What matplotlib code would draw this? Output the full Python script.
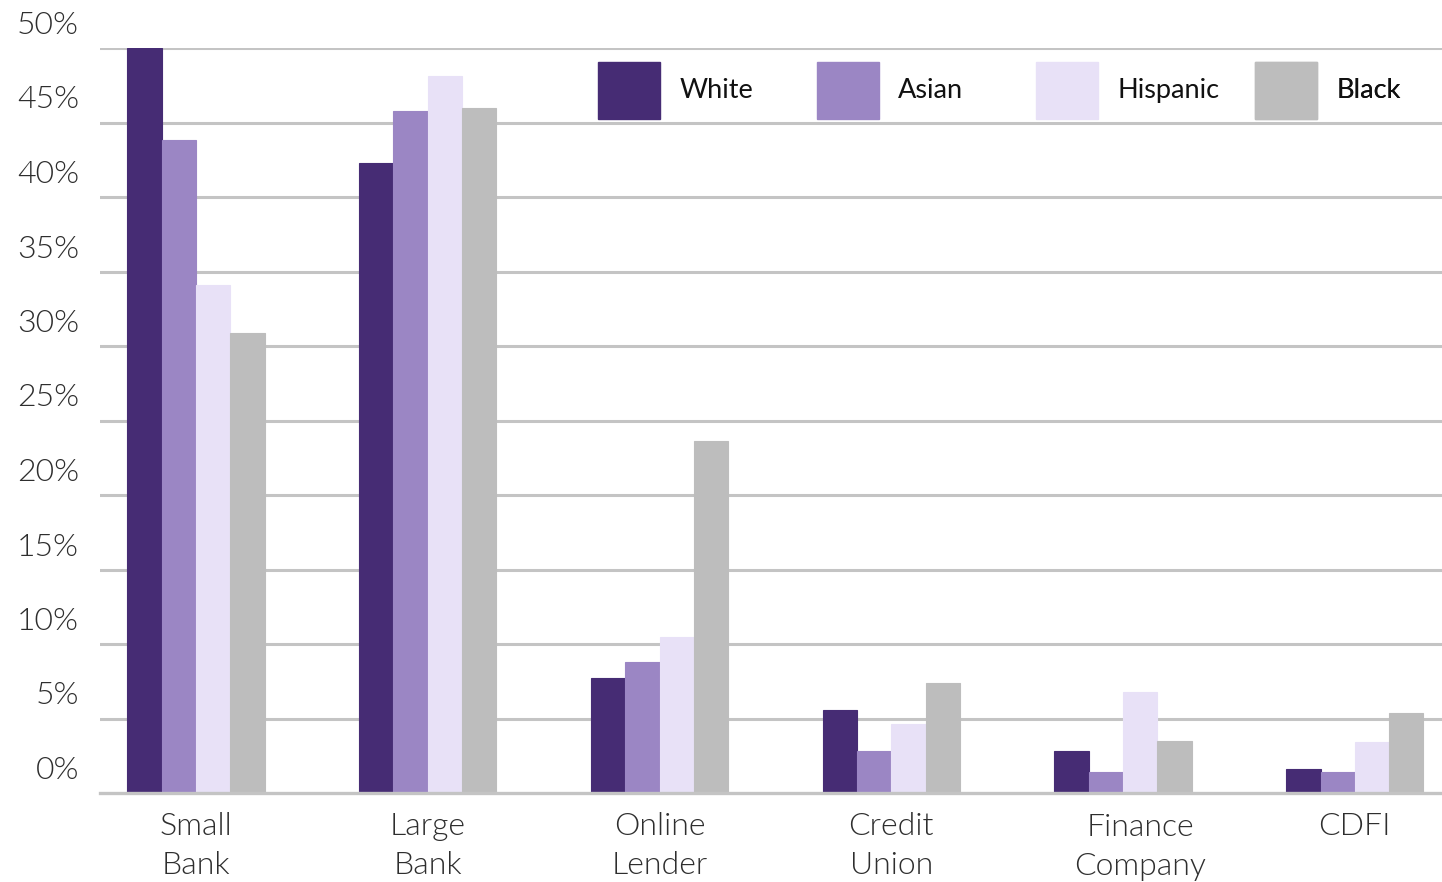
import matplotlib
matplotlib.use("Agg")
import matplotlib.pyplot as plt
import matplotlib.transforms as mtransforms
from matplotlib.patches import Patch
import numpy as np

plt.rcParams['font.family'] = ['Lato', 'DejaVu Sans']

categories = ["Small\nBank", "Large\nBank", "Online\nLender", "Credit\nUnion", "Finance\nCompany", "CDFI"]
series_names = ["White", "Asian", "Hispanic", "Black"]
white = [50.0, 42.3, 7.7, 5.6, 2.8, 1.6]
asian = [43.8, 45.8, 8.8, 2.8, 1.4, 1.4]
hispanic = [34.1, 48.1, 10.5, 4.6, 6.8, 3.4]
black = [30.9, 46.0, 23.6, 7.4, 3.5, 5.4]
yticks = [0, 5, 10, 15, 20, 25, 30, 35, 40, 45, 50]
ytick_labels = [f"{v}%" for v in yticks]

colors = ["#462C74", "#9B86C4", "#E8E1F7", "#BDBDBD"]
text_color = "#2E2E2E"

fig = plt.figure(figsize=(14.42, 8.82), dpi=100)
ax = fig.add_axes([100/1442, 89/882, 1342/1442, 745/882])

x = np.arange(len(categories))
w = 0.148
data = [white, asian, hispanic, black]
for i, (vals, name, c) in enumerate(zip(data, series_names, colors)):
    ax.bar(x + (i - 1.5) * w, vals, width=w, color=c, label=name,
           edgecolor=c, linewidth=0.8, zorder=3)

ax.set_ylim(0, 50)
ax.set_xlim(-0.414, 5.376)
ax.set_yticks(yticks[1:])
ax.yaxis.grid(True, color="#C4C4C4", linewidth=2.2, zorder=0)
ax.set_axisbelow(True)
ax.tick_params(axis='y', length=0, labelleft=False)
ax.tick_params(axis='x', length=0, pad=14)
ax.set_xticks(x)
ax.set_xticklabels(categories, fontsize=23, fontweight=300, color=text_color, linespacing=1.4)
# the "Finance Company" label sits slightly right of its group
fc = ax.get_xticklabels()[4]
fc.set_transform(fc.get_transform() + mtransforms.ScaledTranslation(17/100, -1/100, fig.dpi_scale_trans))

for s in ["top", "right", "left"]:
    ax.spines[s].set_visible(False)
ax.spines["bottom"].set_color("#C4C4C4")
ax.spines["bottom"].set_linewidth(2.4)
ax.spines["bottom"].set_zorder(4)

# y labels sit above their gridlines
offset = mtransforms.ScaledTranslation(-21/100, 14/100, fig.dpi_scale_trans)
trans = mtransforms.blended_transform_factory(ax.transAxes, ax.transData) + offset
for v, lab in zip(yticks, ytick_labels):
    ax.text(0, v, lab, transform=trans, ha='right', va='baseline', fontsize=23,
            fontweight=300, color=text_color)

# legend: four equally spaced entries
leg_x0 = (598 - 100) / 1342
leg_dx = 219 / 1342
for i, (name, c) in enumerate(zip(series_names, colors)):
    leg = ax.legend(handles=[Patch(facecolor=c, edgecolor=c)], labels=[name],
                    loc='center left', bbox_to_anchor=(leg_x0 + i * leg_dx, 0.943),
                    frameon=False, fontsize=19.5, handlelength=2.3, handleheight=2.9,
                    handletextpad=0.7, borderpad=0, borderaxespad=0)
    leg.get_texts()[0].set_color("#111111")
    ax.add_artist(leg)

fig.savefig("out.png", dpi=100)
